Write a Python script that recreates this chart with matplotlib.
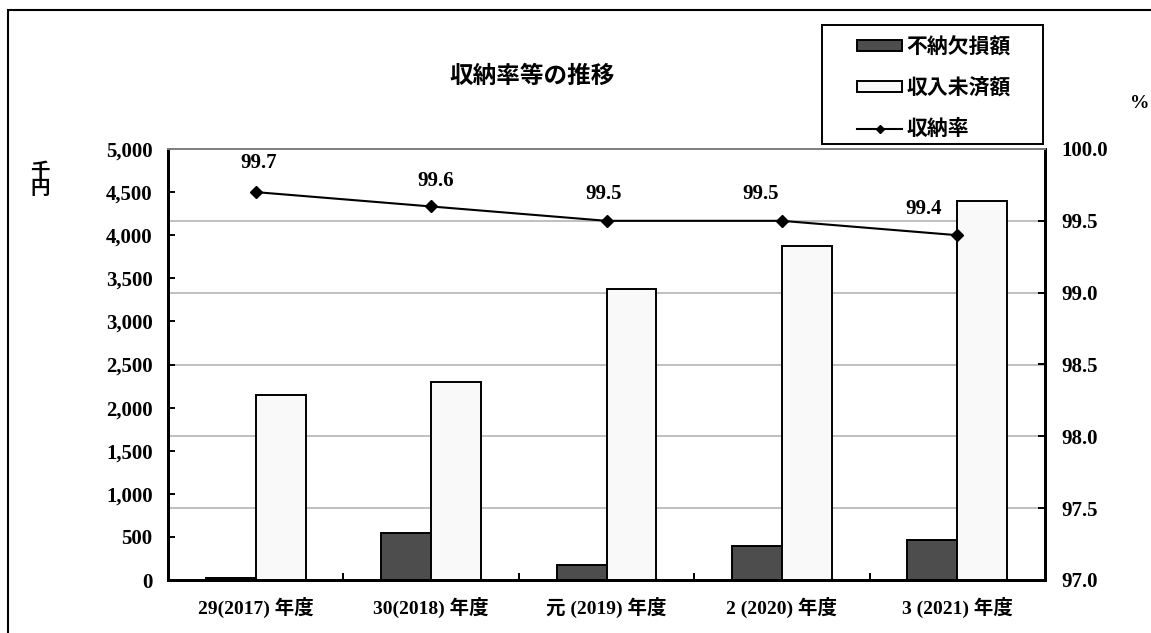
import matplotlib
matplotlib.use("Agg")
import matplotlib.pyplot as plt
from matplotlib.patches import Patch, Rectangle
from matplotlib.lines import Line2D
from matplotlib.ticker import FuncFormatter, FixedLocator
import numpy as np

categories = ["29(2017) 年度", "30(2018) 年度", "元 (2019) 年度", "2 (2020) 年度", "3 (2021) 年度"]
funou = [25, 540, 175, 390, 460]           # 不納欠損額 (千円)
minou = [2150, 2300, 3380, 3880, 4400]     # 収入未済額 (千円)
rate = [99.7, 99.6, 99.5, 99.5, 99.4]      # 収納率 (%)
left_ticks = [0, 500, 1000, 1500, 2000, 2500, 3000, 3500, 4000, 4500, 5000]
right_ticks = [97.0, 97.5, 98.0, 98.5, 99.0, 99.5, 100.0]

plt.rcParams['font.family'] = ['Liberation Serif', 'Noto Sans CJK JP']
plt.rcParams['font.weight'] = 'bold'

W, H = 1151, 633
fig = plt.figure(figsize=(W / 100, H / 100), dpi=100)
ax1 = fig.add_axes([168 / W, 1 - 580 / H, (1045 - 168) / W, (580 - 149) / H])
ax2 = ax1.twinx()

x = np.arange(len(categories))
bw = 0.285
ax1.bar(x - bw / 2, funou, bw, color='#4d4d4d', edgecolor='black', linewidth=1.4, zorder=2,
        label='不納欠損額')
ax1.bar(x + bw / 2, minou, bw, color='#f9f9f9', edgecolor='black', linewidth=1.4, zorder=2,
        label='収入未済額')

ax1.set_xlim(-0.5, len(categories) - 0.5)
ax1.set_ylim(0, 5000)
ax2.set_ylim(97.0, 100.0)

# gridlines at the right-axis ticks, drawn behind the bars
for t in right_ticks[1:-1]:
    f = (t - right_ticks[0]) / (right_ticks[-1] - right_ticks[0])
    ax1.plot([0, 1], [f, f], transform=ax1.transAxes, color='#c0c0c0', lw=1.4, zorder=0.5)

ax1.set_yticks(left_ticks)
ax1.yaxis.set_major_formatter(FuncFormatter(lambda v, p: f"{int(v):,}"))
ax1.tick_params(axis='y', direction='in', length=5, width=1.4, labelsize=15, pad=11)
ax1.set_xticks(x)
ax1.set_xticklabels(categories, fontsize=14, fontweight='bold')
ax1.tick_params(axis='x', which='major', length=0, pad=12)
ax1.xaxis.set_minor_locator(FixedLocator(x[:-1] + 0.5))
ax1.tick_params(axis='x', which='minor', direction='in', length=5, width=1.4)
for lab in ax1.get_yticklabels():
    lab.set_fontweight('bold')

ax2.set_yticks(right_ticks)
ax2.yaxis.set_major_formatter(FuncFormatter(lambda v, p: f"{v:.1f}"))
ax2.tick_params(axis='y', direction='in', length=5, width=1.4, labelsize=15, pad=12)
for lab in ax2.get_yticklabels():
    lab.set_fontweight('bold')

for ax in (ax1, ax2):
    ax.spines['top'].set_color('#808080')
    ax.spines['top'].set_linewidth(1.4)
    for s in ('left', 'right', 'bottom'):
        ax.spines[s].set_linewidth(2)
        ax.spines[s].set_color('black')

ax2.plot(x, rate, color='black', lw=1.5, marker='D', markersize=6.5, zorder=5, label='収納率')
offsets = [(2.5, 13.5), (3.5, 11), (-2, 12), (-15, 12), (-24.5, 12)]
for xi, r, off in zip(x, rate, offsets):
    ax2.annotate(f"{r:.1f}", (xi, r), xytext=off, textcoords='offset points',
                 ha='center', va='bottom', fontsize=15, fontweight='bold')

handles = [Patch(facecolor='#4d4d4d', edgecolor='black', linewidth=1.4),
           Patch(facecolor='#f9f9f9', edgecolor='black', linewidth=1.4),
           Line2D([], [], color='black', lw=1.5, marker='D', markersize=4.5)]
labels = ['不納欠損額', '収入未済額', '収納率']
leg = fig.legend(handles, labels, loc='center', bbox_to_anchor=(934 / W, 1 - 89 / H),
                 bbox_transform=fig.transFigure, borderaxespad=0, frameon=False,
                 prop={'size': 15, 'weight': 'bold'},
                 handlelength=2.16, handleheight=0.45, labelspacing=1.0, handletextpad=0.2,
                 borderpad=0.0)
for t in leg.get_texts():
    t.set_fontweight('bold')
# legend frame
fig.patches.append(Rectangle((822 / W, 1 - 144 / H), (1043 - 822) / W, (144 - 25) / H,
                             transform=fig.transFigure, fill=False, edgecolor='black',
                             linewidth=1.4, zorder=3))

fig.text(532 / W, 1 - 77 / H, "収納率等の推移", ha='center', va='center', fontsize=17,
         fontweight='bold')
fig.text(40 / W, 1 - 180 / H, "千\n円", ha='center', va='center', fontsize=14,
         fontweight='bold', linespacing=1.0)
fig.text(1140 / W, 1 - 103 / H, "%", ha='center', va='center', fontsize=14, fontweight='bold')

fig.patches.append(Rectangle((8 / W, -0.1), 1.2, 1 - 10 / H + 0.1, transform=fig.transFigure,
                             fill=False, edgecolor='black', linewidth=1.5))

fig.savefig("out.png", dpi=100)
